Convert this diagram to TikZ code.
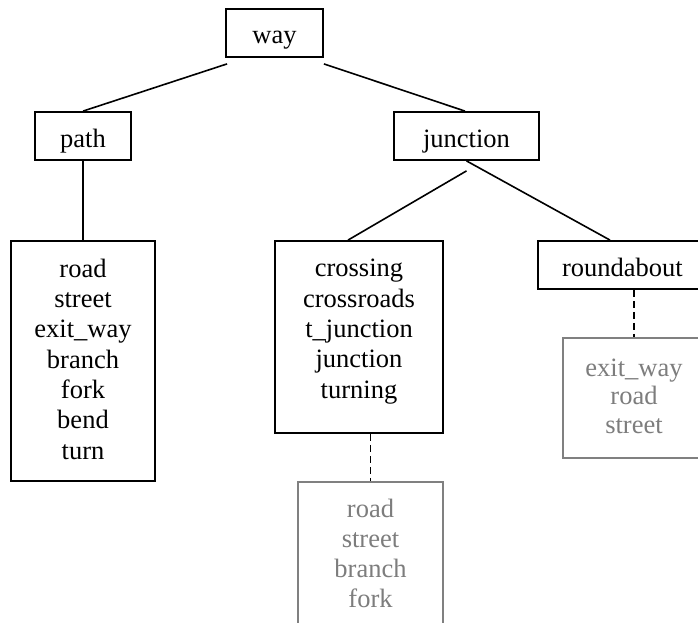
\documentclass[tikz,border=0pt]{standalone}
\usepackage{fontspec}
\setmainfont{Liberation Serif}
\definecolor{lightline}{RGB}{128,128,128}
\definecolor{lighttext}{RGB}{125,125,125}
\begin{document}
\begin{tikzpicture}[x=1pt,y=-1pt,
  every node/.style={font=\fontsize{26.5}{30.3}\selectfont, inner sep=0pt},
  box/.style={draw=black, line width=1.8pt, rectangle},
  single/.style={box, minimum height=48pt, text height=24pt, text depth=2pt},
  graybox/.style={draw=lightline, line width=1.8pt, rectangle},
  listtext/.style={align=center, anchor=base},
  graytext/.style={align=center, anchor=base, text=lighttext},
  link/.style={draw=black, line width=1.6pt},
  dlink/.style={draw=black, line width=1.8pt, dash pattern=on 7pt off 4pt}
]
\clip (0,0) rectangle (698,623);
\fill[white] (0,0) rectangle (698,623);

% top level
\node[single, minimum width=97pt] (way) at (274.5,33) {way};
\node[single, minimum width=96pt] (path) at (83,136) {path};
\node[single, minimum width=145pt] (junction) at (466.5,136) {junction};
\node[single, minimum width=169pt] (roundabout) at (622.5,265) {roundabout};

% list boxes (text anchored at the baseline of its last line)
\node[box, minimum width=144pt, minimum height=240pt] (pathbox) at (83,361) {};
\node[listtext] (pathtxt) at (83,459) {road\\street\\exit\_way\\branch\\fork\\bend\\turn};

\node[box, minimum width=168pt, minimum height=192pt] (crossing) at (359,337) {};
\node[listtext] (crosstxt) at (359,398) {crossing\\crossroads\\t\_junction\\junction\\turning};

\node[graybox, minimum width=142pt, minimum height=120pt] (grayround) at (634,398) {};
\node[graytext, font=\fontsize{26.5}{28.5}\selectfont] (roundtxt) at (634,433) {exit\_way\\road\\street};

\node[graybox, minimum width=145pt, minimum height=178pt] (graycross) at (370.5,571) {};
\node[graytext, font=\fontsize{26.5}{30}\selectfont] (graycrosstxt) at (370.5,607) {road\\street\\branch\\fork};

% connectors
\draw[link] ([xshift=2pt,yshift=-6pt]way.south west) -- (path.north);
\draw[link] ([yshift=-6pt]way.south east) -- ([xshift=-1.5pt]junction.north);
\draw[link] (path.south) -- (pathbox.north);
\draw[link] ([yshift=-10pt]junction.south) -- ([xshift=-11pt]crossing.north);
\draw[link] (junction.south) -- ([xshift=-12.5pt]roundabout.north);
\draw[dlink] (graycross.north |- crossing.south) -- (graycross.north);
\draw[dlink] (grayround.north |- roundabout.south) -- (grayround.north);
\end{tikzpicture}
\end{document}
